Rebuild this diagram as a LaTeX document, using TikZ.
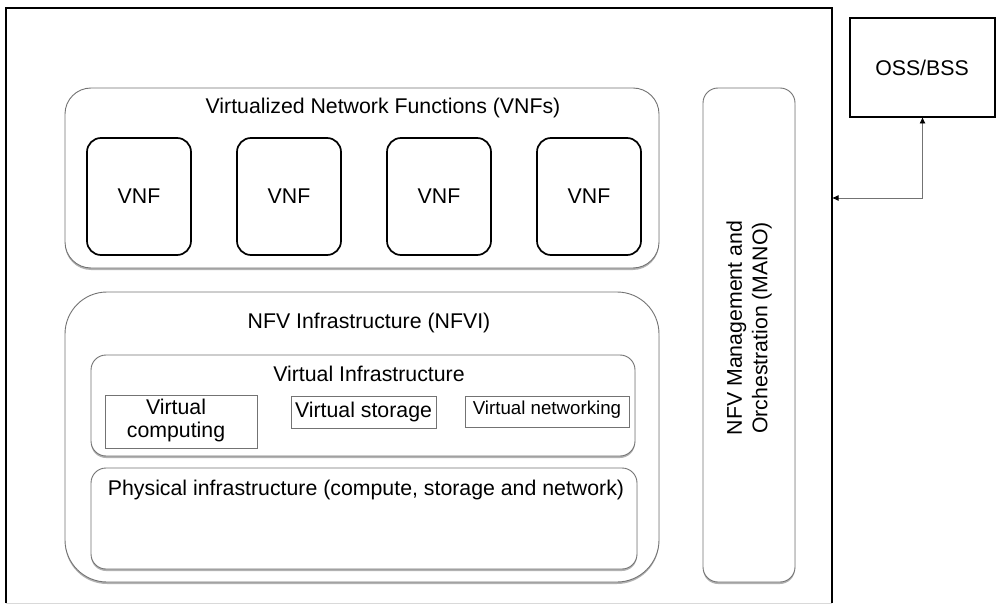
\documentclass[tikz,border=0pt]{standalone}
\usepackage{fontspec}
\setmainfont{Liberation Sans}
\usetikzlibrary{shadows,arrows.meta}
\begin{document}
\begin{tikzpicture}[x=1pt,y=-1pt,
  every node/.style={inner sep=0pt, outer sep=0pt},
  gbox/.style={draw=black!55, line width=0.9pt, fill=white, anchor=north west,
    drop shadow={shadow xshift=0pt, shadow yshift=-2pt, fill=black, opacity=0.3}},
  vbox/.style={draw=black, line width=1.7pt, fill=white, anchor=north west, rounded corners=14pt},
  sbox/.style={draw=black!55, line width=0.9pt, fill=white, anchor=north west},
  txt/.style={font=\fontsize{21.3}{25.5}\selectfont, align=center},
  arr/.style={draw=black!55, line width=0.8pt, {Latex[length=6.5pt,width=6pt,black]}-{Latex[length=6.5pt,width=6pt,black]}}
]
\useasboundingbox (0,0) rectangle (996,604);
% outer frame
\node (outer) [anchor=north west, minimum width=826pt, minimum height=595pt] at (6,8) {};
\draw[line width=2pt] (outer.south west) -- (outer.north west) -- (outer.north east) -- (outer.south east);
\draw[black!15, line width=0.8pt] (outer.south west) -- (outer.south east);
% OSS/BSS
\node (oss) [draw, line width=2.4pt, anchor=north west, minimum width=145pt, minimum height=99pt] at (850,18) {};
\node (osst) [txt] at (922,68) {OSS/BSS};
\draw[arr] (oss.south) |- (outer.east |- 0,198);
% VNFs container
\node (vnfs) [gbox, rounded corners=26pt, minimum width=594pt, minimum height=180pt] at (65,88) {};
\node (vnfst) [txt] at (383,108) {Virtualized Network Functions (VNFs)};
\node (v1) [vbox, minimum width=104pt, minimum height=117pt] at (87,138) {};
\node (v2) [vbox, minimum width=104pt, minimum height=117pt] at (237,138) {};
\node (v3) [vbox, minimum width=104pt, minimum height=117pt] at (387,138) {};
\node (v4) [vbox, minimum width=104pt, minimum height=117pt] at (537,138) {};
\node (v1t) [txt] at (v1.center) {VNF};
\node (v2t) [txt] at (v2.center) {VNF};
\node (v3t) [txt] at (v3.center) {VNF};
\node (v4t) [txt] at (v4.center) {VNF};
% MANO
\node (mano) [gbox, rounded corners=15pt, minimum width=92pt, minimum height=494pt] at (703,88) {};
\node (manot) [txt, rotate=90] at (749,328) {NFV Management and\\Orchestration (MANO)};
% NFVI
\node (nfvi) [gbox, rounded corners=42pt, minimum width=594pt, minimum height=290pt] at (65,292) {};
\node (nfvit) [txt] at (369,323) {NFV Infrastructure (NFVI)};
\node (vi) [gbox, rounded corners=15pt, minimum width=544pt, minimum height=101pt] at (91,355) {};
\node (vit) [txt] at (369,374) {Virtual Infrastructure};
\node (vc) [sbox, minimum width=152pt, minimum height=53pt] at (105,395) {};
\node (vct) [font=\fontsize{21.3}{23}\selectfont, align=center] at (176,420) {Virtual\\computing};
\node (vs) [sbox, minimum width=145pt, minimum height=32pt] at (291,396) {};
\node (vst) [txt] at (vs.center) {Virtual storage};
\node (vn) [sbox, minimum width=164pt, minimum height=31pt] at (465,396) {};
\node (vnt) [font=\fontsize{18.7}{22}\selectfont] at (547,410) {Virtual networking};
\node (phy) [gbox, rounded corners=15pt, minimum width=546pt, minimum height=101pt] at (91,468) {};
\node (phyt) [txt] at (366,490) {Physical infrastructure (compute, storage and network)};
\end{tikzpicture}
\end{document}
